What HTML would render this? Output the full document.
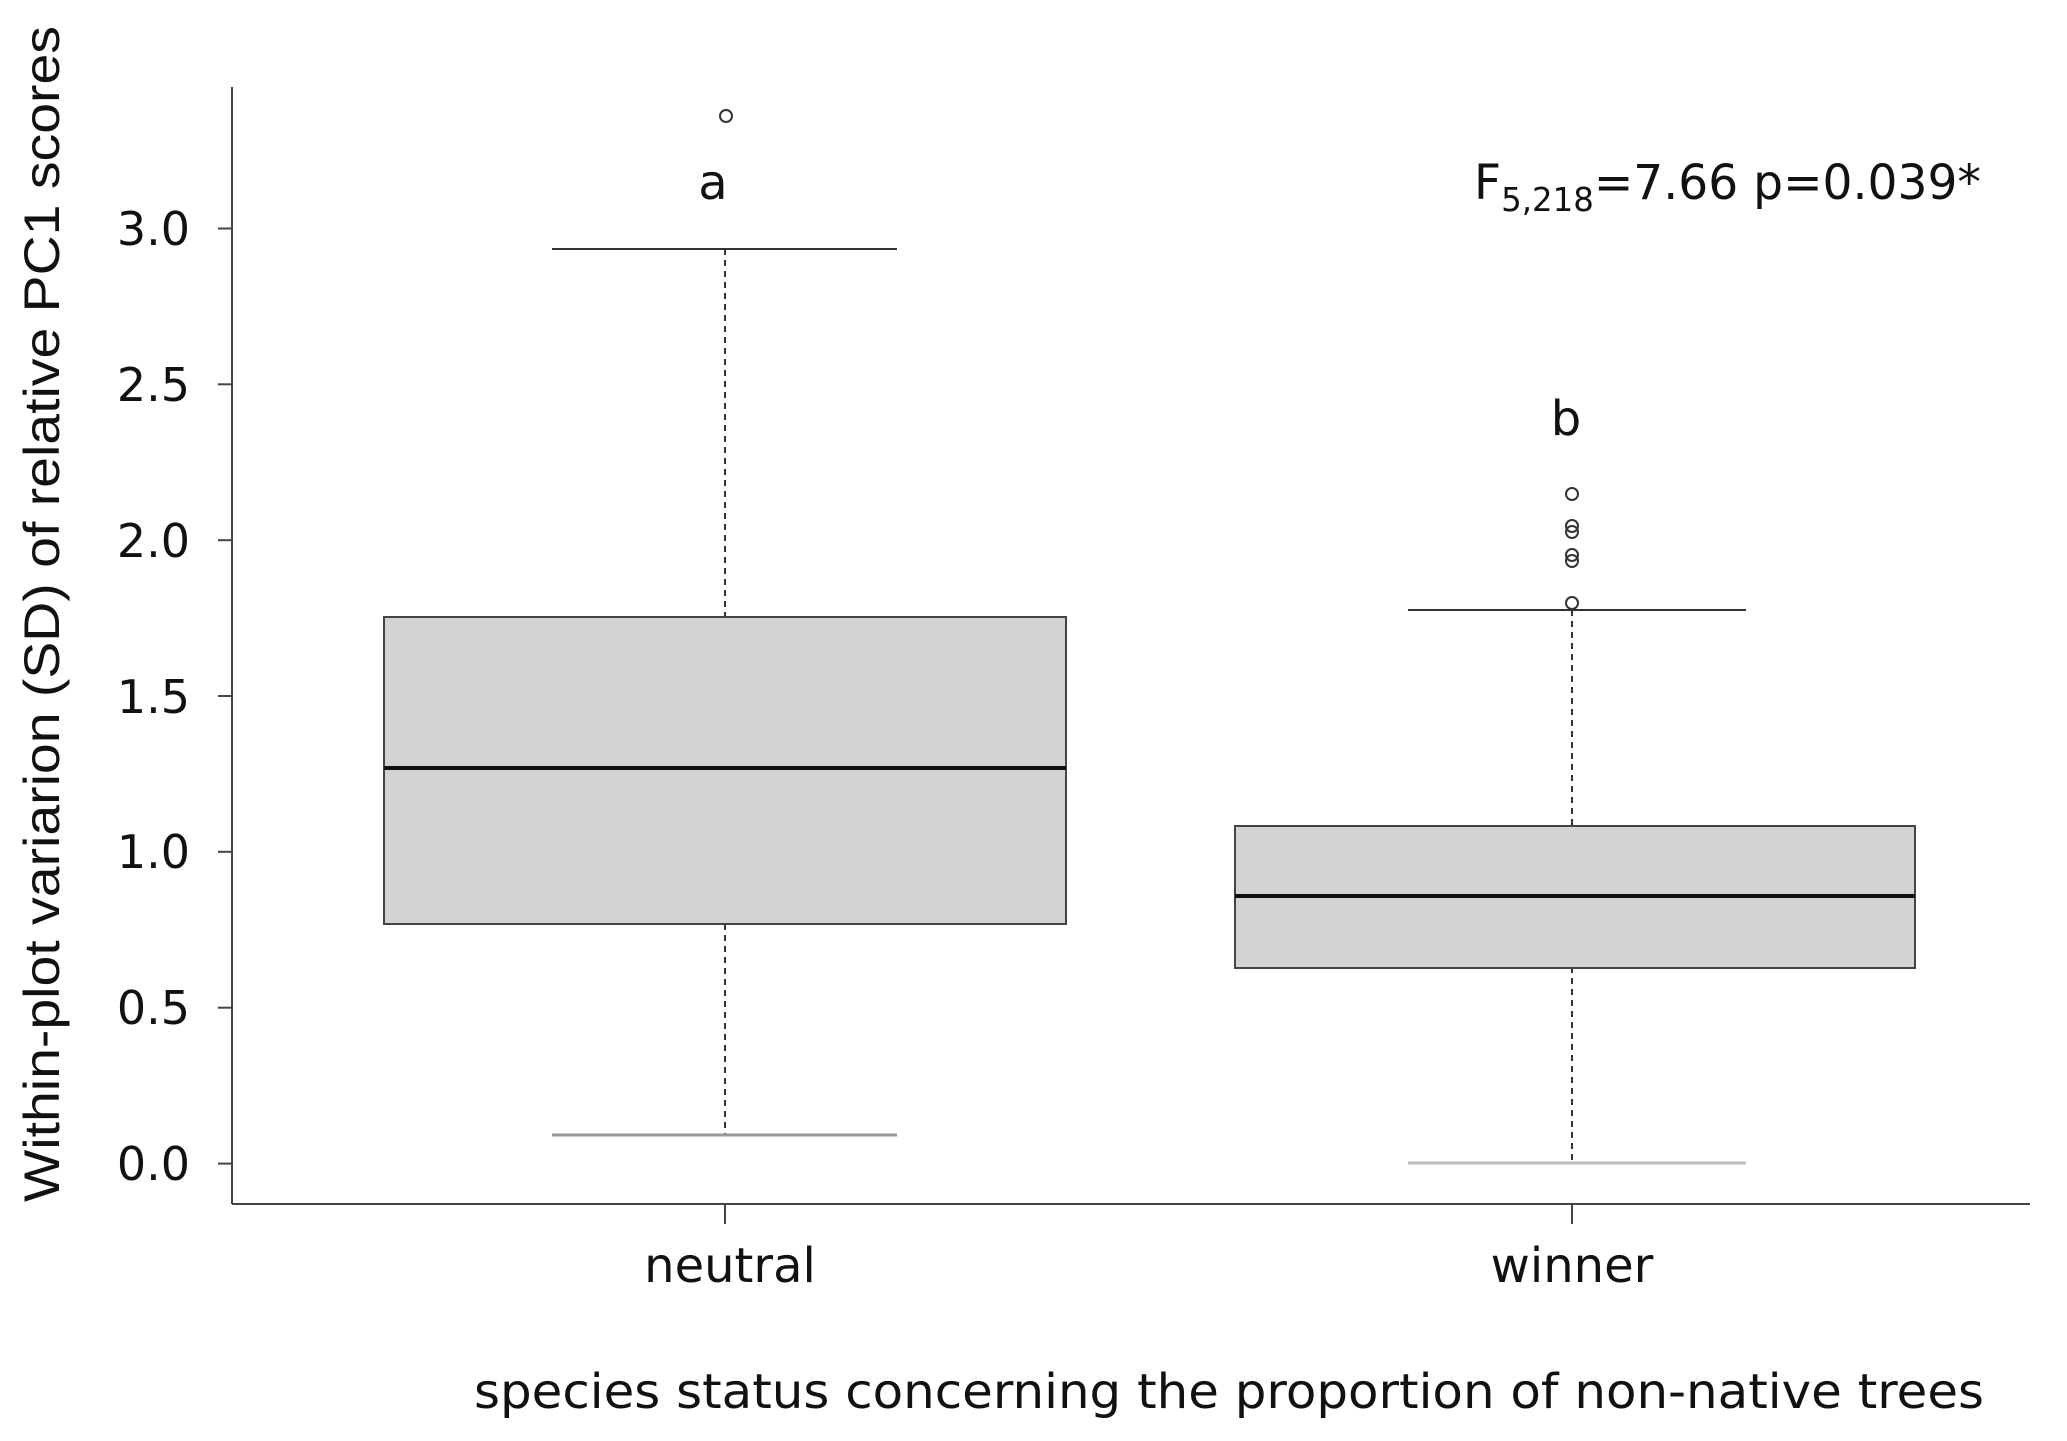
<!DOCTYPE html>
<html><head><meta charset="utf-8"><style>html,body{margin:0;padding:0;background:#fff}</style></head>
<body>
<svg width="2067" height="1436" viewBox="0 0 2067 1436" xmlns="http://www.w3.org/2000/svg">
<g stroke="#444" stroke-width="2" fill="none">
<line x1="232" y1="87" x2="232" y2="1204"/>
<line x1="232" y1="1204" x2="2030" y2="1204"/>
<line x1="218" y1="228.5" x2="232" y2="228.5"/>
<line x1="218" y1="384.3" x2="232" y2="384.3"/>
<line x1="218" y1="540.2" x2="232" y2="540.2"/>
<line x1="218" y1="696" x2="232" y2="696"/>
<line x1="218" y1="851.8" x2="232" y2="851.8"/>
<line x1="218" y1="1007.7" x2="232" y2="1007.7"/>
<line x1="218" y1="1163.6" x2="232" y2="1163.6"/>
<line x1="725" y1="1204" x2="725" y2="1224"/>
<line x1="1572" y1="1204" x2="1572" y2="1224"/>
</g>
<g font-family="DejaVu Sans, sans-serif" font-size="46" text-anchor="end" fill="#111">
<text x="190" y="245">3.0</text>
<text x="190" y="401">2.5</text>
<text x="190" y="557">2.0</text>
<text x="190" y="713">1.5</text>
<text x="190" y="868">1.0</text>
<text x="190" y="1024">0.5</text>
<text x="190" y="1180">0.0</text>
</g>
<!-- neutral -->
<g>
<line x1="725" y1="249" x2="725" y2="617" stroke="#333" stroke-width="2" stroke-dasharray="6,5"/>
<line x1="725" y1="924" x2="725" y2="1134" stroke="#333" stroke-width="2" stroke-dasharray="6,5"/>
<line x1="552" y1="249" x2="897" y2="249" stroke="#333" stroke-width="2"/>
<line x1="552" y1="1135" x2="897" y2="1135" stroke="#999" stroke-width="3"/>
<rect x="384" y="617" width="682" height="307" fill="#d3d3d3" stroke="#444" stroke-width="2"/>
<line x1="384" y1="768" x2="1066" y2="768" stroke="#111" stroke-width="4"/>
<circle cx="726" cy="116" r="6" fill="none" stroke="#333" stroke-width="2"/>
</g>
<!-- winner -->
<g>
<line x1="1572" y1="610" x2="1572" y2="825" stroke="#333" stroke-width="2" stroke-dasharray="6,5"/>
<line x1="1572" y1="967" x2="1572" y2="1162" stroke="#333" stroke-width="2" stroke-dasharray="6,5"/>
<line x1="1408" y1="610" x2="1746" y2="610" stroke="#333" stroke-width="2"/>
<line x1="1408" y1="1163" x2="1746" y2="1163" stroke="#bbb" stroke-width="3"/>
<rect x="1235" y="826" width="680" height="142" fill="#d3d3d3" stroke="#444" stroke-width="2"/>
<line x1="1235" y1="896" x2="1915" y2="896" stroke="#111" stroke-width="4"/>
<g fill="none" stroke="#333" stroke-width="2">
<circle cx="1572" cy="494" r="6"/><circle cx="1572" cy="526" r="6"/><circle cx="1572" cy="532" r="6"/>
<circle cx="1572" cy="555" r="6"/><circle cx="1572" cy="561" r="6"/><circle cx="1572" cy="603" r="6"/>
</g>
</g>
<g font-family="DejaVu Sans, sans-serif" font-size="48" fill="#111" text-anchor="middle">
<text x="713" y="199">a</text>
<text x="1566" y="435">b</text>
<text x="730" y="1282">neutral</text>
<text x="1572" y="1282">winner</text>
<text x="1474" y="199" text-anchor="start" textLength="507" lengthAdjust="spacingAndGlyphs">F<tspan font-size="33" dy="12">5,218</tspan><tspan dy="-12">=7.66 p=0.039*</tspan></text>
<text x="1229" y="1408" textLength="1510" lengthAdjust="spacingAndGlyphs">species status concerning the proportion of non-native trees</text>
</g>
<text transform="translate(59,614) rotate(-90)" font-family="Liberation Sans, sans-serif" font-size="50" fill="#111" text-anchor="middle" textLength="1176" lengthAdjust="spacingAndGlyphs">Within-plot variarion (SD) of relative PC1 scores</text>
</svg>
</body></html>
